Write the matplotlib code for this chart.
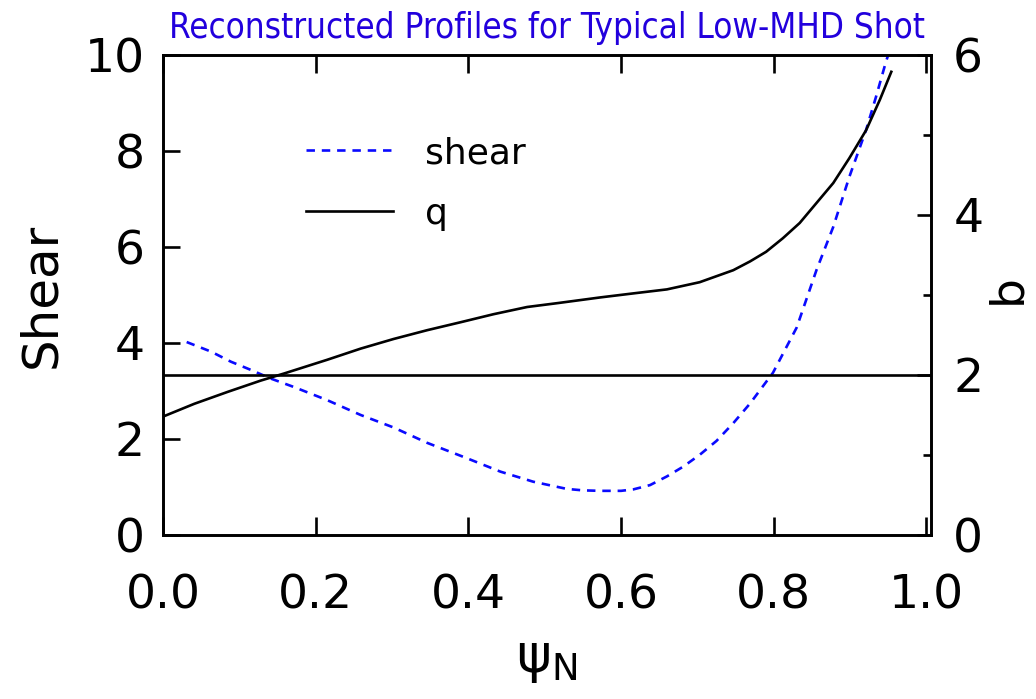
import matplotlib
matplotlib.use("Agg")
import matplotlib.pyplot as plt
from matplotlib.ticker import MultipleLocator

plt.rcParams['font.family'] = ['DejaVu Sans']
plt.rcParams['mathtext.default'] = 'regular'

# ---- data ----
x_shear = [0.031, 0.063, 0.089, 0.115, 0.141, 0.172, 0.215, 0.259, 0.302, 0.346,
           0.398, 0.442, 0.485, 0.529, 0.55, 0.573, 0.60, 0.616, 0.638, 0.660,
           0.681, 0.703, 0.725, 0.747, 0.769, 0.799, 0.830, 0.856, 0.878, 0.899,
           0.921, 0.934, 0.947, 0.952]
shear = [4.02, 3.82, 3.61, 3.44, 3.26, 3.08, 2.81, 2.50, 2.24, 1.92,
         1.60, 1.32, 1.11, 0.96, 0.93, 0.92, 0.92, 0.95, 1.04, 1.22,
         1.42, 1.67, 1.96, 2.33, 2.74, 3.38, 4.32, 5.52, 6.42, 7.46,
         8.44, 9.13, 9.86, 10.1]

x_q = [0.0, 0.041, 0.085, 0.128, 0.159, 0.215, 0.259, 0.302, 0.346, 0.390,
       0.433, 0.477, 0.518, 0.573, 0.616, 0.660, 0.703, 0.747, 0.769, 0.790,
       0.812, 0.834, 0.856, 0.878, 0.899, 0.921, 0.939, 0.954]
q = [1.48, 1.64, 1.79, 1.93, 2.02, 2.19, 2.33, 2.45, 2.56, 2.66,
     2.76, 2.85, 2.90, 2.97, 3.02, 3.07, 3.16, 3.31, 3.42, 3.54,
     3.71, 3.90, 4.15, 4.40, 4.71, 5.06, 5.44, 5.79]

q_ref = 2.0

title = "Reconstructed Profiles for Typical Low-MHD Shot"
x_ticks = [0.0, 0.2, 0.4, 0.6, 0.8, 1.0]
x_ticklabels = ["0.0", "0.2", "0.4", "0.6", "0.8", "1.0"]
left_ticks = [0, 2, 4, 6, 8, 10]
right_ticks = [0, 2, 4, 6]

# ---- figure ----
W, H = 1036, 699
fig = plt.figure(figsize=(W / 100, H / 100), dpi=100)
L, R, B, T = 163, 931, 535, 55
ax = fig.add_axes([L / W, 1 - B / H, (R - L) / W, (B - T) / H])
ax2 = ax.twinx()

lw = 1.9
tick_fs = 34

blue = '#0a0aff'
l1, = ax.plot(x_shear, shear, color=blue, lw=lw, linestyle=(0, (3.2, 2.6)), label='shear')
l2, = ax2.plot(x_q, q, color='black', lw=lw, label='q')
ax2.axhline(q_ref, color='black', lw=lw)

ax.set_xlim(0, 1.006)
ax.set_ylim(0, 10)
ax2.set_ylim(0, 6)

ax.set_xticks(x_ticks)
ax.set_xticklabels(x_ticklabels)
ax.set_yticks(left_ticks)
ax2.set_yticks(right_ticks)
ax2.yaxis.set_minor_locator(MultipleLocator(1))

ax.tick_params(axis='x', which='major', direction='in', length=13, width=lw,
               top=True, labelsize=tick_fs, pad=28)
ax.tick_params(axis='y', which='major', direction='in', length=12, width=lw,
               right=False, labelsize=tick_fs, pad=13)
ax2.tick_params(axis='y', which='major', direction='in', length=10, width=lw,
                labelsize=tick_fs, pad=16)
ax2.tick_params(axis='y', which='minor', direction='in', length=6, width=lw)

for a in (ax, ax2):
    for s in a.spines.values():
        s.set_linewidth(lw)

ax.set_ylabel('Shear', fontsize=36, labelpad=14)
ax2.set_ylabel('q', fontsize=34, rotation=270, labelpad=34)
ax.set_xlabel(r'$\psi_{N}$', fontsize=38, labelpad=10)

# title, scaled to span the reference width
t = ax.set_title(title, color='#2200dd', fontsize=20, pad=12,
                 fontstretch='condensed')
fig.canvas.draw()
bb = t.get_window_extent()
t.set_fontsize(20 * 755 / bb.width)

leg = ax.legend(handles=[l1, l2], loc='upper left', frameon=False, fontsize=26,
                bbox_to_anchor=(306 / W, 1 - 136 / H), bbox_transform=fig.transFigure,
                handlelength=2.4, handletextpad=0.9, labelspacing=0.75,
                borderpad=0, borderaxespad=0)

fig.savefig('out.png', dpi=100)
